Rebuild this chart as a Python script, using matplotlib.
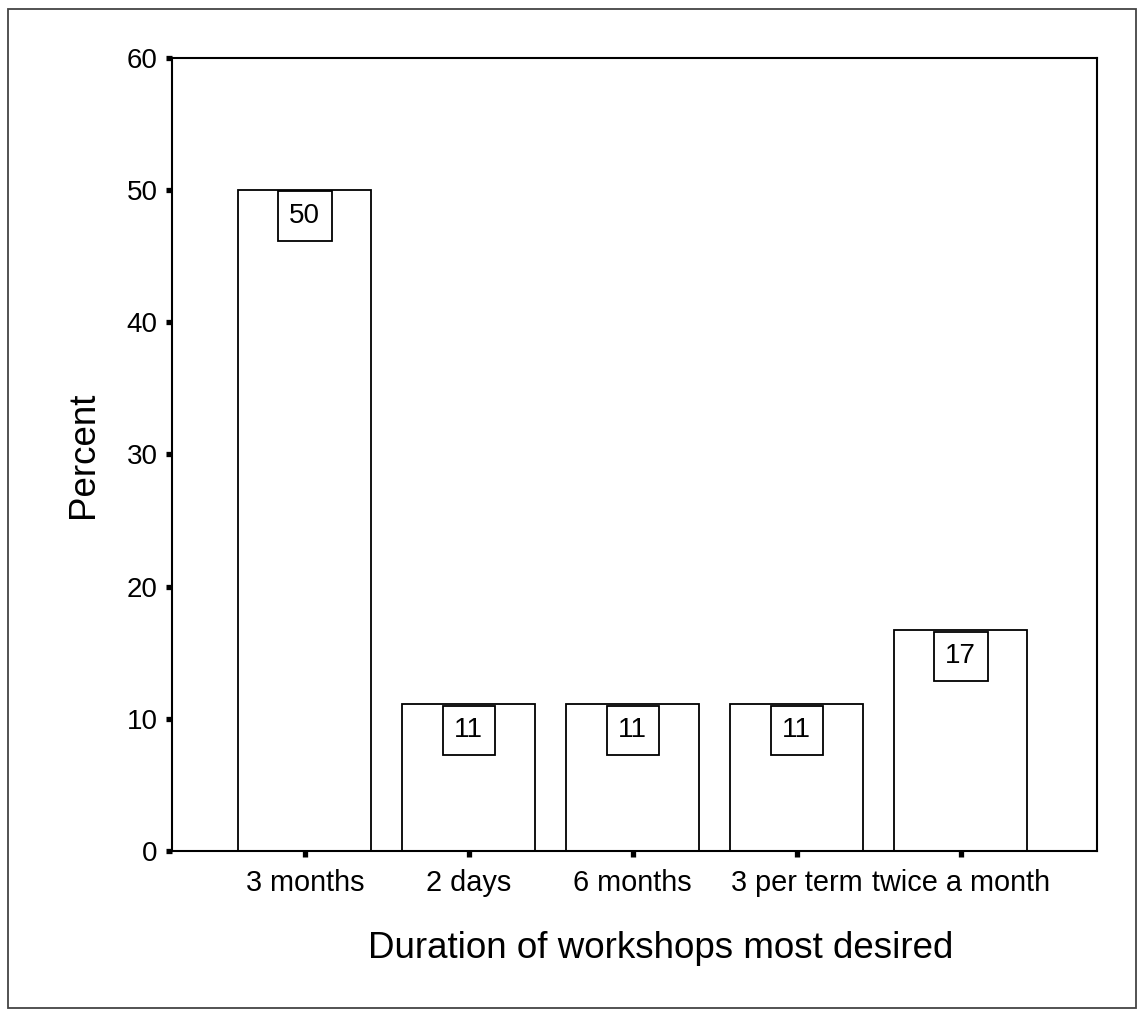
import matplotlib.pyplot as plt
from matplotlib.patches import Rectangle

plt.rcParams['font.family'] = ['Liberation Sans', 'DejaVu Sans']

categories = ['3 months', '2 days', '6 months', '3 per term', 'twice a month']
percent = [50.0, 11.1, 11.1, 11.1, 16.7]
y_ticks = [0, 10, 20, 30, 40, 50, 60]


def draw_chart():
    fig = plt.figure(figsize=(11.39, 10.11), dpi=100)
    ax = fig.add_axes([0.151, 0.158, 0.812, 0.785])

    x = list(range(len(categories)))
    ax.bar(x, percent, width=0.81, color='white', edgecolor='black', linewidth=1.3)

    # value boxes hanging from the top of each bar
    for xi, v in zip(x, percent):
        ax.annotate(f'{v:.0f}', xy=(xi, v), xytext=(0, -26), textcoords='offset pixels',
                    ha='center', va='center', fontsize=20,
                    bbox=dict(boxstyle='square,pad=0.42', fc='white', ec='black', lw=1.3))

    ax.set_xlim(-0.81, 4.83)
    ax.set_ylim(0, 60)
    ax.set_yticks(y_ticks)
    ax.set_xticks(x)
    ax.set_xticklabels(categories)
    ax.tick_params(axis='both', direction='out', length=4.5, width=3.8)
    ax.tick_params(axis='y', pad=6, labelsize=20)
    ax.tick_params(axis='x', pad=8, labelsize=20.8)
    for s in ax.spines.values():
        s.set_linewidth(1.5)

    ax.set_xlabel('Duration of workshops most desired', fontsize=26.5, va='center')
    ax.xaxis.set_label_coords(0.528, -0.122)
    ax.set_ylabel('Percent', fontsize=26.5, va='center')
    ax.yaxis.set_label_coords(-0.096, 0.5)

    # thin frame around the whole figure
    fig.patches.append(Rectangle((0.007, 0.003), 0.99, 0.988, transform=fig.transFigure,
                                 fill=False, edgecolor='#444444', linewidth=1.3))

    fig.savefig('out.png', dpi=100)


draw_chart()
